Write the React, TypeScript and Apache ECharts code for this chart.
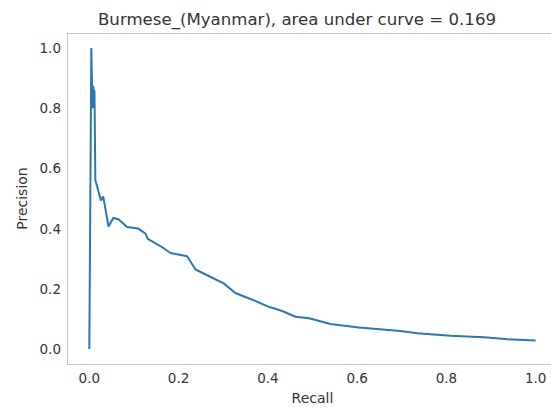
import React, { useEffect, useRef } from "react";
import * as echarts from "echarts";

const titleText = "Burmese_(Myanmar), area under curve = 0.169";
const xTicks = [0, 0.2, 0.4, 0.6, 0.8, 1.0];
const yTicks = [0, 0.2, 0.4, 0.6, 0.8, 1.0];

const recall = [
  0, 0.0045, 0.007, 0.009, 0.0105, 0.0115, 0.0135, 0.0157, 0.021, 0.026, 0.031, 0.034,
  0.043, 0.054, 0.066, 0.0845, 0.11, 0.126, 0.131, 0.159, 0.182, 0.219, 0.238, 0.264,
  0.301, 0.327, 0.368, 0.402, 0.432, 0.462, 0.492, 0.507, 0.54, 0.604, 0.697, 0.735,
  0.809, 0.884, 0.937, 1.0,
];
const precision = [
  0, 1.0, 0.8, 0.875, 0.8, 0.86, 0.56, 0.55, 0.521, 0.493, 0.507, 0.483,
  0.407, 0.436, 0.43, 0.405, 0.4, 0.383, 0.366, 0.342, 0.319, 0.308, 0.264, 0.245,
  0.218, 0.186, 0.162, 0.14, 0.126, 0.107, 0.102, 0.096, 0.083, 0.071, 0.06, 0.052,
  0.044, 0.039, 0.032, 0.028,
];

const textColor = "#333333";
const frameColor = "#c8c8c8";
const font = "DejaVu Sans";

export default function App() {
  const ref = useRef<HTMLDivElement>(null);
  useEffect(() => {
    document.body.style.margin = "0";
    if (!ref.current) return;
    const chart = echarts.init(ref.current, undefined, { renderer: "svg" });
    const frameLine = { show: true, onZero: false, lineStyle: { color: frameColor, width: 1 } };
    chart.setOption({
      animation: false,
      backgroundColor: "#ffffff",
      grid: {
        left: 67,
        top: 33,
        width: 491,
        bottom: 44,
        outerBoundsMode: "none",
        containLabel: false,
      },
      graphic: [
        {
          type: "text",
          x: 297,
          y: 19,
          style: {
            text: titleText,
            textAlign: "center",
            textVerticalAlign: "middle",
            fontFamily: font,
            fontSize: 16.6,
            fill: textColor,
          },
        },
      ],
      xAxis: [
        {
          type: "value",
          min: -0.05,
          max: 1.05,
          position: "bottom",
          name: "Recall",
          nameLocation: "middle",
          nameGap: 27,
          nameTextStyle: { fontFamily: font, fontSize: 14, color: textColor },
          axisLine: frameLine,
          axisTick: { show: false },
          splitLine: { show: false },
          axisLabel: {
            customValues: xTicks,
            formatter: (v: number) => v.toFixed(1),
            fontFamily: font,
            fontSize: 13.5,
            color: textColor,
            margin: 7,
          },
        },
        {
          type: "value",
          min: -0.05,
          max: 1.05,
          position: "top",
          axisLine: frameLine,
          axisTick: { show: false },
          splitLine: { show: false },
          axisLabel: { show: false },
        },
      ],
      yAxis: {
        type: "value",
        min: -0.05,
        max: 1.05,
        name: "Precision",
        nameLocation: "middle",
        nameGap: 36,
        nameRotate: 90,
        nameTextStyle: { fontFamily: font, fontSize: 14, color: textColor },
        axisLine: frameLine,
        axisTick: { show: false },
        splitLine: { show: false },
        axisLabel: {
          customValues: yTicks,
          formatter: (v: number) => v.toFixed(1),
          fontFamily: font,
          fontSize: 13.5,
          color: textColor,
          margin: 6,
        },
      },
      series: [
        {
          type: "line",
          xAxisIndex: 0,
          data: recall.map((r, i) => [r, precision[i]]),
          showSymbol: false,
          symbol: "none",
          clip: false,
          lineStyle: { color: "#2c77b1", width: 2 },
        },
      ],
    });
    return () => chart.dispose();
  }, []);
  return <div ref={ref} style={{ width: 551, height: 408 }} />;
}
